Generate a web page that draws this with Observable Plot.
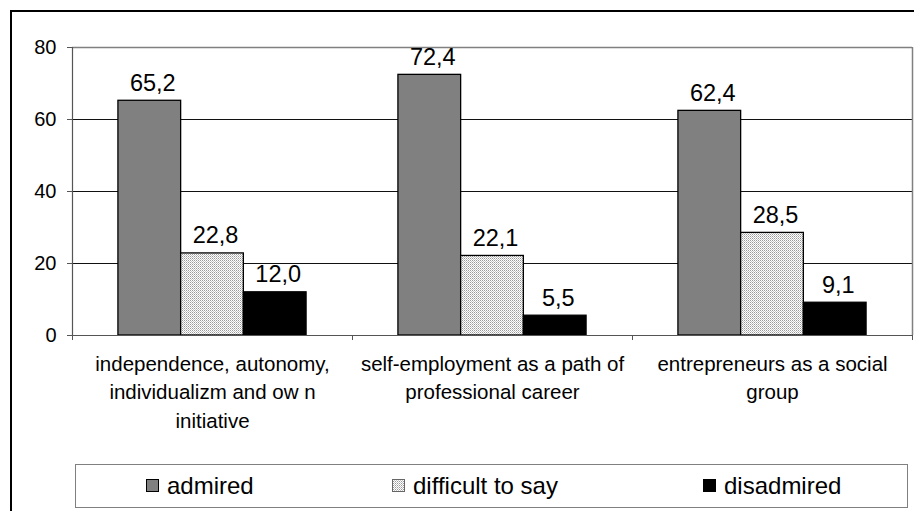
<!DOCTYPE html>
<html>
<head>
<meta charset="utf-8">
<script src="https://cdn.jsdelivr.net/npm/d3@7"></script>
<script src="https://cdn.jsdelivr.net/npm/@observablehq/plot@0.6"></script>
<style>
  html, body { margin: 0; padding: 0; background: #fff; overflow: hidden; }
  #wrap { position: relative; width: 914px; height: 511px; overflow: hidden; font-family: "Liberation Sans", Arial, sans-serif; }
  #frame { position: absolute; left: 10px; top: 10px; width: 940px; height: 540px; border-left: 2px solid #000; border-top: 2px solid #000; box-sizing: border-box; }
  #chart { position: absolute; left: 0; top: 0; }
  #legend { position: absolute; left: 75px; top: 464px; width: 833px; height: 44px; border: 1.5px solid #808080; box-sizing: border-box; }
  .item { position: absolute; top: 0; height: 41px; display: flex; align-items: center; font-size: 24px; color: #000; }
  .sw { width: 13px; height: 13px; border: 1px solid #000; margin-right: 8px; box-sizing: border-box; }
</style>
</head>
<body>
<div id="wrap">
  <div id="frame"></div>
  <div id="chart"></div>
  <div id="legend"></div>
</div>
<script>
const categories = [
  "independence, autonomy,\nindividualizm and ow n\ninitiative",
  "self-employment as a path of\nprofessional career",
  "entrepreneurs as a social\ngroup"
];
const series = ["admired", "difficult to say", "disadmired"];
const admired = [65.2, 72.4, 62.4];
const difficultToSay = [22.8, 22.1, 28.5];
const disadmired = [12.0, 5.5, 9.1];
const yTicks = [0, 20, 40, 60, 80];

const seriesValues = [admired, difficultToSay, disadmired];
const fills = ["#808080", "url(#hatch)", "#000000"];

const table = [];
categories.forEach((c, ci) => {
  series.forEach((s, si) => {
    table.push({ci, si, category: c, series: s, value: seriesValues[si][ci]});
  });
});

const bw = 0.224;
const pad = (1 - 3 * bw) / 2;
const fmt = v => v.toFixed(1).replace(".", ",");

const chart = Plot.plot({
  width: 914,
  height: 460,
  marginLeft: 72,
  marginRight: 2,
  marginTop: 47,
  marginBottom: 125,
  style: {fontFamily: "'Liberation Sans', Arial, sans-serif", background: "transparent", color: "#000"},
  x: {domain: [0, categories.length], axis: null},
  y: {domain: [0, 80], axis: null},
  color: {domain: series, range: fills},
  marks: [
    Plot.ruleY([20, 40, 60], {stroke: "#111", strokeWidth: 1}),
    Plot.ruleY([80], {stroke: "#808080", strokeWidth: 1.5}),
    Plot.ruleX([categories.length], {stroke: "#808080", strokeWidth: 1.5}),
    Plot.rectY(table, {
      x1: d => d.ci + pad + d.si * bw,
      x2: d => d.ci + pad + (d.si + 1) * bw,
      y: "value",
      fill: "series",
      stroke: "#000",
      strokeWidth: 1.3
    }),
    Plot.ruleY([0], {stroke: "#555", strokeWidth: 1.2}),
    Plot.ruleX([0], {stroke: "#555", strokeWidth: 1.2}),
    Plot.axisY({ticks: yTicks, tickSize: 5, tickPadding: 11, fontSize: 20, tickFormat: d => String(d), stroke: "#555", label: null}),
    Plot.axisX({ticks: d3.range(categories.length + 1), tickSize: 5, tickFormat: () => "", stroke: "#555", label: null}),
    Plot.text(table, {
      x: d => d.ci + pad + (d.si + 0.5) * bw,
      y: "value",
      text: d => fmt(d.value),
      dy: -10,
      dx: 3,
      lineAnchor: "bottom",
      fontSize: 23.5,
      fill: "#000"
    }),
    Plot.text(categories, {
      x: (d, i) => i + 0.5,
      y: () => 0,
      text: d => d,
      lineAnchor: "top",
      dy: 15,
      fontSize: 20.5,
      lineHeight: 1.39,
      fill: "#000"
    })
  ]
});

const ns = "http://www.w3.org/2000/svg";
const defs = document.createElementNS(ns, "defs");
defs.innerHTML = '<pattern id="hatch" width="2" height="2" patternUnits="userSpaceOnUse">' +
  '<rect width="2" height="2" fill="#ffffff"/>' +
  '<rect x="0" y="0" width="1" height="1" fill="#9a9a9a"/>' +
  '<rect x="1" y="1" width="1" height="1" fill="#c4c4c4"/>' +
  '</pattern>';
chart.insertBefore(defs, chart.firstChild);
document.getElementById("chart").appendChild(chart);

// legend
const legend = document.getElementById("legend");
const itemLeft = [70, 316, 627];
const swatchCss = [
  "background:#808080;",
  "background-color:#fff;background-image:linear-gradient(45deg,#9a9a9a 25%,transparent 25%,transparent 75%,#9a9a9a 75%),linear-gradient(45deg,#c4c4c4 25%,transparent 25%,transparent 75%,#c4c4c4 75%);background-size:2px 2px;background-position:0 0,1px 1px;border-color:#666;",
  "background:#000;"
];
series.forEach((s, i) => {
  const item = document.createElement("div");
  item.className = "item";
  item.style.left = itemLeft[i] + "px";
  const sw = document.createElement("span");
  sw.className = "sw";
  sw.style.cssText = swatchCss[i];
  const label = document.createElement("span");
  label.textContent = s;
  item.appendChild(sw);
  item.appendChild(label);
  legend.appendChild(item);
});
</script>
</body>
</html>
